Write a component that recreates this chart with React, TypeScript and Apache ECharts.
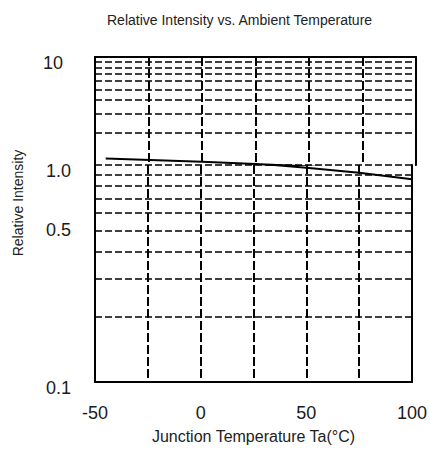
import React, { useEffect, useRef } from "react";
import * as echarts from "echarts";

const titleText = "Relative Intensity vs. Ambient Temperature";
const xAxisName = "Junction Temperature Ta(°C)";
const yAxisName = "Relative Intensity";

const temps = [-45, 0, 25, 50, 75, 100];
const intensity = [1.15, 1.07, 1.02, 0.97, 0.92, 0.86];

const upperMinor = [2, 3, 4, 5, 6, 7, 8, 9];
const lowerMinor = [0.2, 0.3, 0.4, 0.5, 0.6, 0.7, 0.8, 0.9];
const extraYLabel = 0.5;

const FONT = "'Liberation Sans', Arial, sans-serif";
const BLACK = "#000";
const TEXT = "#1a1a1a";

export default function App() {
  const ref = useRef<HTMLDivElement>(null);

  useEffect(() => {
    if (!ref.current) return;
    const chart = echarts.init(ref.current, null, { renderer: "svg" });
    const data = temps.map((t, i) => [t, intensity[i]]);

    const gridLineStyle = { color: BLACK, width: 1.5, type: [7, 3] as number[] };
    const borderStyle = { color: BLACK, width: 2 };

    const baseX = {
      type: "value",
      min: -50,
      max: 100,
      interval: 25,
      axisTick: { show: false },
      splitLine: {
        show: true,
        showMinLine: false,
        showMaxLine: false,
        lineStyle: { color: BLACK, width: 2, type: [9, 3] },
      },
    };

    const rightY = (gridIndex: number) => ({
      gridIndex,
      type: "value",
      position: "right",
      min: 0,
      max: 1,
      axisLine: { show: true, onZero: false, lineStyle: borderStyle },
      axisTick: { show: false },
      axisLabel: { show: false },
      splitLine: { show: false },
    });

    const lineSeries = (idx: number, minors: number[], withLabel: boolean) => ({
      type: "line",
      xAxisIndex: idx,
      yAxisIndex: idx * 2,
      data,
      symbol: "none",
      showSymbol: false,
      clip: true,
      lineStyle: { color: BLACK, width: 2 },
      z: 5,
      markLine: {
        silent: true,
        symbol: "none",
        animation: false,
        label: { show: false },
        lineStyle: gridLineStyle,
        data: minors.map((v) =>
          withLabel && v === extraYLabel
            ? {
                yAxis: v,
                label: {
                  show: true,
                  position: "start",
                  formatter: String(v),
                  fontSize: 18,
                  color: TEXT,
                  fontFamily: FONT,
                  distance: 24,
                },
              }
            : { yAxis: v }
        ),
      },
    });

    const yLabelStyle = {
      fontSize: 18,
      color: TEXT,
      fontFamily: FONT,
      verticalAlign: "top",
      lineHeight: 11,
    };

    chart.setOption({
      animation: false,
      backgroundColor: "#fff",
      title: {
        text: titleText,
        left: 102,
        top: 8,
        textStyle: { fontSize: 14, fontWeight: "normal", color: "#222", fontFamily: FONT },
      },
      graphic: [
        {
          type: "text",
          x: 18,
          y: 203,
          rotation: Math.PI / 2,
          style: {
            text: yAxisName,
            fontSize: 14,
            fontFamily: FONT,
            fill: "#222",
            textAlign: "center",
            textVerticalAlign: "middle",
          },
        },
      ],
      grid: [
        { left: 95, right: 14, top: 57, height: 108 },
        { left: 95, right: 14, top: 165, height: 217 },
      ],
      xAxis: [
        {
          ...baseX,
          gridIndex: 0,
          position: "top",
          axisLine: { show: true, onZero: false, lineStyle: borderStyle },
          axisLabel: { show: false },
        },
        {
          ...baseX,
          gridIndex: 1,
          position: "bottom",
          axisLine: { show: true, onZero: false, lineStyle: borderStyle },
          axisLabel: {
            show: true,
            formatter: (v: number) => (v % 50 === 0 ? String(v) : ""),
            fontSize: 18,
            color: TEXT,
            fontFamily: FONT,
            margin: 22,
          },
          name: xAxisName,
          nameLocation: "middle",
          nameGap: 46,
          nameTextStyle: { fontSize: 16, color: "#222", fontFamily: FONT },
        },
      ],
      yAxis: [
        {
          gridIndex: 0,
          type: "log",
          logBase: 10,
          min: 1,
          max: 10,
          position: "left",
          axisLine: { show: true, onZero: false, lineStyle: borderStyle },
          axisTick: { show: false },
          axisLabel: {
            ...yLabelStyle,
            formatter: (v: number) => (v > 9.9 ? "10" : ""),
            showMinLabel: false,
            margin: 32,
          },
          splitLine: { show: true, showMaxLine: false, lineStyle: gridLineStyle },
        },
        rightY(0),
        {
          gridIndex: 1,
          type: "log",
          logBase: 10,
          min: 0.1,
          max: 1,
          position: "left",
          axisLine: { show: true, onZero: false, lineStyle: borderStyle },
          axisTick: { show: false },
          axisLabel: {
            ...yLabelStyle,
            formatter: (v: number) => (v > 0.99 ? "1.0" : "0.1"),
            margin: 24,
          },
          splitLine: { show: true, showMinLine: false, showMaxLine: false, lineStyle: gridLineStyle },
        },
        rightY(1),
      ],
      series: [lineSeries(0, upperMinor, false), lineSeries(1, lowerMinor, true)],
    });

    return () => chart.dispose();
  }, []);

  return (
    <div
      ref={ref}
      style={{ position: "fixed", left: 0, top: 0, width: 430, height: 457, background: "#fff" }}
    />
  );
}
